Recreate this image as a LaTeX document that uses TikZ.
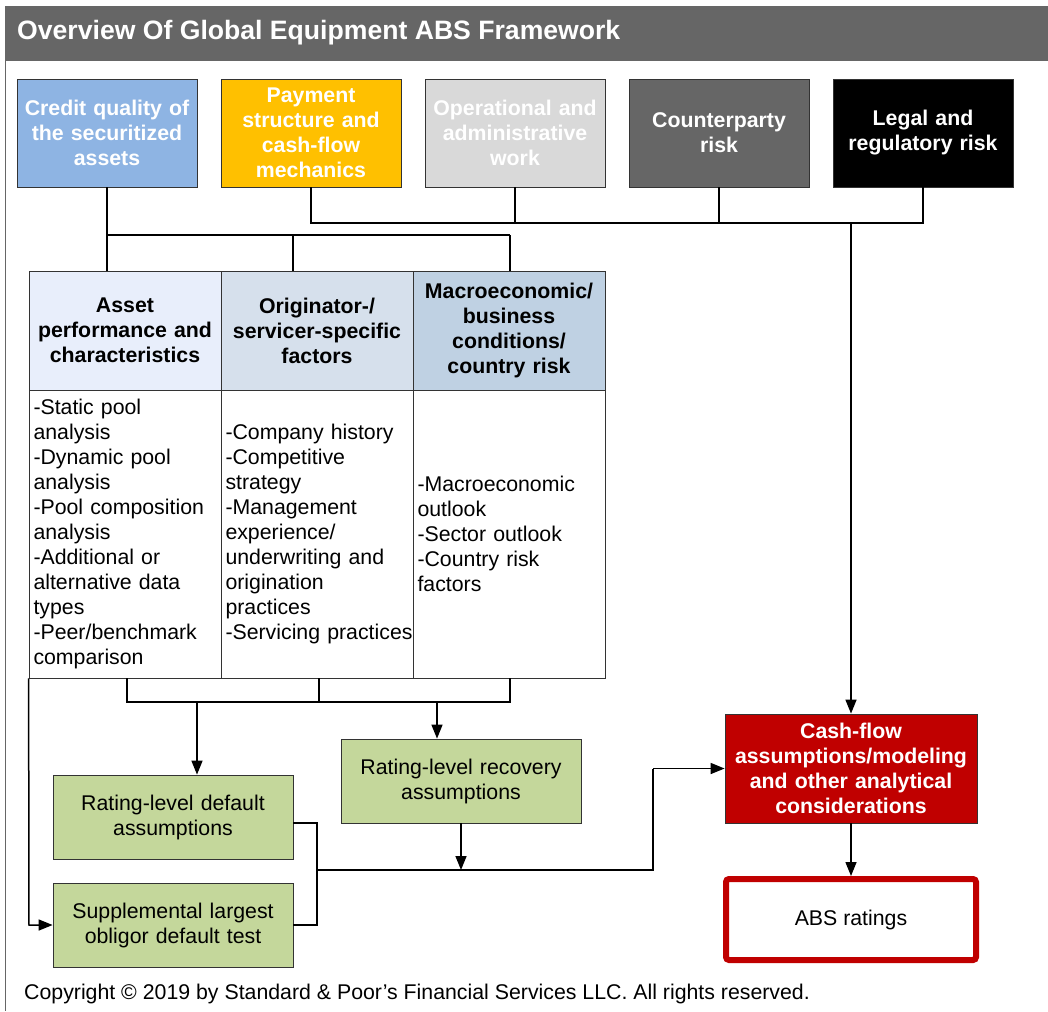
\documentclass[tikz,border=0pt]{standalone}
\usepackage{fontspec}
\setmainfont{Liberation Sans}
\usetikzlibrary{arrows.meta}
\definecolor{hdrgray}{HTML}{666666}
\definecolor{cblue}{HTML}{8EB4E3}
\definecolor{cyellow}{HTML}{FFC000}
\definecolor{clgray}{HTML}{D9D9D9}
\definecolor{cdgray}{HTML}{666666}
\definecolor{th1}{HTML}{E8EEFB}
\definecolor{th2}{HTML}{D6E0EC}
\definecolor{th3}{HTML}{BFD1E3}
\definecolor{cgreen}{HTML}{C4D79B}
\definecolor{cred}{HTML}{C00000}
\definecolor{edge}{HTML}{333333}
\begin{document}
\begin{tikzpicture}[x=1pt,y=-1pt,
  topbox/.style={draw=edge, line width=0.8pt, minimum width=180pt, minimum height=108pt, text width=176pt, inner sep=2pt, align=center, font=\bfseries\fontsize{21.3}{25}\selectfont, text=white},
  headcell/.style={draw=edge, line width=0.8pt, minimum width=192pt, minimum height=119pt, text width=188pt, inner sep=2pt, align=center, font=\bfseries\fontsize{21.3}{25}\selectfont},
  bodycell/.style={draw=edge, line width=0.8pt, fill=white, minimum width=192pt, minimum height=288pt, text width=183pt, inner xsep=4.5pt, inner ysep=0pt, align=left, font=\fontsize{21.3}{25}\selectfont},
  greenbox/.style={draw=edge, line width=0.8pt, fill=cgreen, minimum width=240pt, minimum height=84pt, text width=232pt, inner sep=2pt, align=center, font=\fontsize{21.3}{25}\selectfont},
  conn/.style={line width=1.5pt, black},
  arr/.style={conn, -{Triangle[length=14pt,width=11pt]}}
]
\useasboundingbox (0,0) rectangle (1048,1011);
\fill[white] (0,0) rectangle (1048,1011);
% frame and title band
\fill[hdrgray] (5,6) rectangle (1048,61);
\draw[hdrgray, line width=1pt] (5,61) -- (5,1011);
\node[anchor=west, text=white, font=\bfseries\fontsize{26.6}{30}\selectfont, inner sep=0pt] (title) at (17,33) {Overview Of Global Equipment ABS Framework};

% top boxes
\node[topbox, fill=cblue] (b1) at (107,133) {Credit quality of\\the securitized\\assets};
\node[topbox, fill=cyellow] (b2) at (311,133) {Payment\\structure and\\cash-flow\\mechanics};
\node[topbox, fill=clgray] (b3) at (515,133) {Operational and\\administrative\\work};
\node[topbox, fill=cdgray] (b4) at (719,133) {Counterparty\\risk};
\node[topbox, fill=black] (b5) at (923,133) {Legal and\\regulatory risk};

% table
\node[headcell, fill=th1] (h1) at (125,330.5) {Asset\\performance and\\characteristics};
\node[headcell, fill=th2] (h2) at (317,330.5) {Originator-/\\servicer-specific\\factors};
\node[headcell, fill=th3] (h3) at (509,330.5) {Macroeconomic/\\business\\conditions/\\country risk};
\node[bodycell] (c1) at (125,534) {-Static pool\\analysis\\-Dynamic pool\\analysis\\-Pool composition\\analysis\\-Additional or\\alternative data\\types\\-Peer/benchmark\\comparison};
\node[bodycell] (c2) at (317,534) {-Company history\\-Competitive\\strategy\\-Management\\experience/\\underwriting and\\origination\\practices\\\mbox{-Servicing practices}};
\node[bodycell] (c3) at (509,534) {-Macroeconomic\\outlook\\-Sector outlook\\-Country risk\\factors};

% lower boxes
\node[greenbox] (def) at (173,817) {Rating-level default\\assumptions};
\node[greenbox] (sup) at (173,925) {Supplemental largest\\obligor default test};
\node[greenbox] (rec) at (461,781) {Rating-level recovery\\assumptions};
\node[draw=edge, line width=0.8pt, fill=cred, minimum width=252pt, minimum height=109pt, text width=248pt, inner sep=2pt, align=center, text=white, font=\bfseries\fontsize{21.3}{25}\selectfont] (cf) at (851,768.5) {Cash-flow\\assumptions/modeling\\and other analytical\\considerations};
\node[draw=cred, line width=6pt, rounded corners=3pt, fill=white, minimum width=250pt, minimum height=81pt, align=center, font=\fontsize{21.3}{25}\selectfont] (abs) at (851,919.5) {ABS ratings};

% copyright
\node[anchor=west, inner sep=0pt, font=\fontsize{21.3}{25}\selectfont] (copy) at (24,994) {Copyright © 2019 by Standard \& Poor’s Financial Services LLC. All rights reserved.};

% connectors: credit quality to table
\coordinate (j1) at (107,235);
\coordinate (j1b) at (293,235);
\coordinate (j1c) at (510,235);
\draw[conn] (b1.south) -- (j1) -- (j1c);
\draw[conn] (j1) -- (j1 |- h1.north);
\draw[conn] (j1b) -- (j1b |- h2.north);
\draw[conn] (j1c) -- (j1c |- h3.north);

% connectors: other top boxes bus
\coordinate (bus2L) at (311,223);
\coordinate (bus2R) at (923,223);
\draw[conn] (b2.south) -- (bus2L) -- (bus2R) -- (b5.south);
\draw[conn] (b3.south) -- (b3.south |- bus2L);
\draw[conn] (b4.south) -- (b4.south |- bus2L);
\draw[arr] (cf.north |- bus2L) -- (cf.north);

% below table
\coordinate (k1) at (127,702);
\coordinate (k2) at (319,702);
\coordinate (k3) at (510,702);
\coordinate (kd) at (197,702);
\coordinate (kr) at (437,702);
\draw[conn] (k1 |- c1.south) -- (k1) -- (k3) -- (k3 |- c3.south);
\draw[conn] (k2 |- c2.south) -- (k2);
\draw[arr] (kd) -- (kd |- def.north);
\draw[arr] (kr) -- (kr |- rec.north);

% left line to supplemental
\coordinate (lft) at (29,925);
\draw[arr] (c1.south west) -- (lft) -- (sup.west);

% bracket and merge
\coordinate (m1) at (317,823);
\coordinate (m2) at (317,870);
\coordinate (m3) at (653,870);
\coordinate (m4) at (653,768.5);
\coordinate (mr) at (461,870);
\draw[conn] (def.east |- m1) -- (m1) -- (m1 |- sup.east) -- (sup.east);
\draw[conn] (m2) -- (m3) -- (m4);
\draw[arr] (m4) -- (cf.west);
\draw[arr] (rec.south) -- (mr);
\draw[arr] (cf.south) -- (abs.north);
\end{tikzpicture}
\end{document}
